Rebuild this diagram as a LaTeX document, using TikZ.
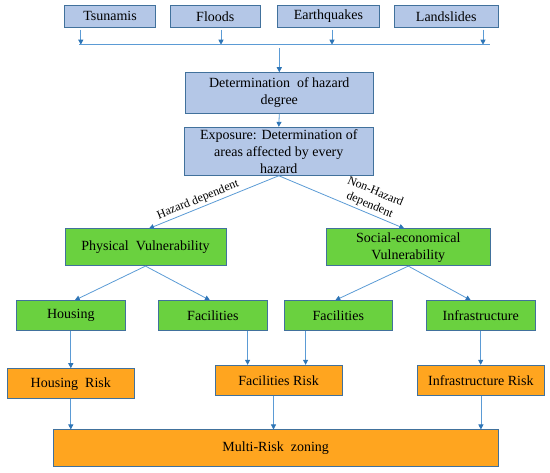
\documentclass[tikz,border=0pt]{standalone}
\usepackage{fontspec}
\setmainfont{Liberation Serif}
\usetikzlibrary{arrows.meta}
\definecolor{bfill}{HTML}{B4C7E7}
\definecolor{bdraw}{HTML}{41719C}
\definecolor{gfill}{HTML}{6AD13F}
\definecolor{ofill}{HTML}{FFA51F}
\definecolor{lcol}{HTML}{5B9BD5}
\definecolor{tcol}{HTML}{2E75B6}
\begin{document}
\begin{tikzpicture}[x=1pt,y=-1pt,
  box/.style={draw=bdraw, line width=0.9pt, inner sep=0pt, align=center,
    font=\fontsize{14}{17}\selectfont, text=black},
  bluebox/.style={box, fill=bfill},
  greenbox/.style={box, fill=gfill},
  orangebox/.style={box, fill=ofill},
  conn/.style={draw=lcol, line width=0.8pt},
  arr/.style={conn, -{Triangle[length=5pt,width=5pt,color=tcol]}},
  lbl/.style={font=\fontsize{12}{14.5}\selectfont, inner sep=2pt, align=center, sloped, above}
]
\useasboundingbox (0,0) rectangle (550,473);

% hazards
\node[bluebox, minimum width=91.3, minimum height=22] (ts) at (110,16.3) {Tsunamis};
\node[bluebox, minimum width=90.6, minimum height=22] (fl) at (215.3,16.3) {Floods};
\node[bluebox, minimum width=102.7, minimum height=22] (eq) at (328.4,16.3) {Earthquakes};
\node[bluebox, minimum width=103.5, minimum height=22] (ls) at (446.3,16.3) {Landslides};

\coordinate (bl) at (79.4,44.7);
\coordinate (br) at (490,44.7);
\coordinate (b1) at (80.8,44.7);
\coordinate (b2) at (221,44.7);
\coordinate (b3) at (332,44.7);
\coordinate (b4) at (483,44.7);

\node[bluebox, minimum width=187.5, minimum height=40.6] (hd) at (279.3,93) {Determination\ \ of hazard\\degree};
\node[bluebox, minimum width=188.5, minimum height=48] (ex) at (278.8,151.3) {Exposure: Determination of\\areas affected\ by\ every\\hazard};

\node[greenbox, minimum width=161, minimum height=36.7] (pv) at (145.5,247.3) {Physical\ \ Vulnerability};
\node[greenbox, minimum width=163.3, minimum height=36.7] (sv) at (408.3,247.3) {Social-economical\\Vulnerability};

\node[greenbox, minimum width=108.5, minimum height=30] (ho) at (70.8,315.7) {Housing};
\node[greenbox, minimum width=108.2, minimum height=30] (f1) at (212.9,315.7) {Facilities};
\node[greenbox, minimum width=108.7, minimum height=30] (f2) at (338.3,315.7) {Facilities};
\node[greenbox, minimum width=108.6, minimum height=30] (in) at (480.7,315.7) {Infrastructure};

\node[orangebox, minimum width=127.5, minimum height=30] (hr) at (70.8,383.7) {Housing\ \ Risk};
\node[orangebox, minimum width=127, minimum height=30] (fr) at (278.5,380.3) {Facilities Risk};
\node[orangebox, minimum width=127.1, minimum height=30] (ir) at (480.9,380.3) {Infrastructure\ Risk};

\node[orangebox, minimum width=444.6, minimum height=36.7] (mr) at (275.7,448.3) {Multi-Risk\ \ zoning};

% top connectors
\draw[arr, shorten <=2pt] (ts.south -| b1) -- (b1);
\draw[arr, shorten <=2pt] (fl.south -| b2) -- (b2);
\draw[arr, shorten <=2pt] (eq.south -| b3) -- (b3);
\draw[arr, shorten <=2pt] (ls.south -| b4) -- (b4);
\draw[conn, line width=1.1pt] (bl) -- (br);
\draw[arr, shorten <=3.5pt] (hd.north |- bl) -- (hd.north);
\draw[arr] (hd.south) -- (ex.north);

% vulnerability split
\draw[arr] (ex.south) -- node[lbl, pos=0.6] {Hazard dependent} ([xshift=3.5pt]pv.north);
\draw[arr] (ex.south) -- node[lbl, pos=0.7] {Non-Hazard\\dependent} ([xshift=-4pt]sv.north);

\draw[arr] (pv.south) -- ([xshift=4pt]ho.north);
\draw[arr] (pv.south) -- ([xshift=-3pt]f1.north);
\draw[arr] (sv.south) -- ([xshift=-3pt]f2.north);
\draw[arr] (sv.south) -- ([xshift=-10pt]in.north);

% to risks
\draw[arr] (ho.south) -- (hr.north);
\draw[arr] ([xshift=34.7pt]f1.south) -- ([xshift=34.7pt]f1.south |- fr.north);
\draw[arr] ([xshift=-32.7pt]f2.south) -- ([xshift=-32.7pt]f2.south |- fr.north);
\draw[arr] (in.south) -- (in.south |- ir.north);

% to multi-risk
\draw[arr] (hr.south) -- (hr.south |- mr.north);
\draw[arr] ([xshift=-5pt]fr.south) -- ([xshift=-5pt]fr.south |- mr.north);
\draw[arr] (ir.south) -- (ir.south |- mr.north);
\end{tikzpicture}
\end{document}
